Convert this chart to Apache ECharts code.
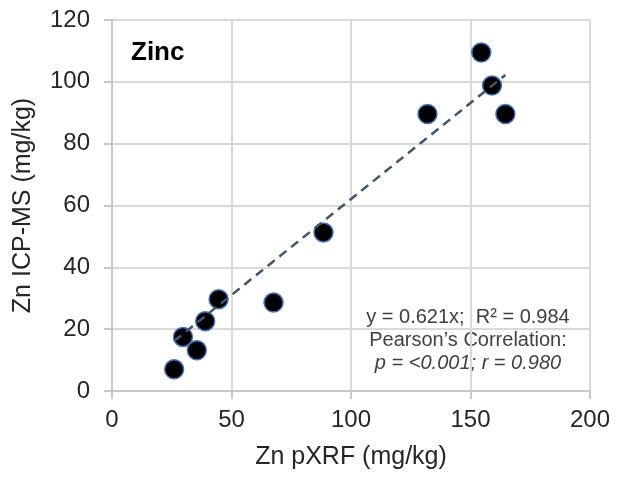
<!DOCTYPE html>
<html>
<head>
<meta charset="utf-8">
<script src="https://cdn.jsdelivr.net/npm/echarts@6/dist/echarts.min.js"></script>
<style>
  html, body { margin: 0; padding: 0; background: #fff; }
  #chart { width: 621px; height: 482px; }
</style>
</head>
<body>
<div id="chart"></div>
<script>
// Zn pXRF vs ICP-MS (mg/kg)
var pxrf  = [154.5, 159, 132, 164.6, 88.5, 44.6, 67.6, 39, 29.7, 35.5, 26]
var icpms = [109.5, 98.8, 89.6, 89.6, 51.3, 29.7, 28.6, 22.6, 17.5, 13.2, 7]
var slope = 0.621
var xTicks = [0, 50, 100, 150, 200]
var yTicks = [0, 20, 40, 60, 80, 100, 120]
var statLines = ['y = 0.621x;  R\u00b2 = 0.984', 'Pearson\u2019s Correlation:', 'p = <0.001; r = 0.980']

var points = pxrf.map(function (x, i) { return [x, icpms[i]] })
var xMin = Math.min.apply(null, pxrf)
var xMax = Math.max.apply(null, pxrf)
var trend = [[xMin, slope * xMin], [xMax, slope * xMax]]

var font = '"Liberation Sans", Arial, sans-serif'
var gridColor = '#d9d9d9'
var textColor = '#262626'

var chart = echarts.init(document.getElementById('chart'))
chart.setOption({
  animation: false,
  textStyle: { fontFamily: font },
  grid: { left: 112, right: 31, top: 20, bottom: 91, containLabel: false },
  xAxis: {
    type: 'value',
    min: xTicks[0], max: xTicks[xTicks.length - 1], interval: 50,
    name: 'Zn pXRF (mg/kg)', nameLocation: 'middle', nameGap: 54,
    nameTextStyle: { fontSize: 25, color: textColor, fontFamily: font },
    axisLine: { show: true, lineStyle: { color: '#c8c8c8', width: 2 } },
    axisTick: { show: true, length: 8, lineStyle: { color: '#c8c8c8', width: 2 } },
    axisLabel: { fontSize: 24, color: textColor, margin: 17, fontFamily: font },
    splitLine: { show: true, lineStyle: { color: gridColor, width: 2 } }
  },
  yAxis: {
    type: 'value',
    min: yTicks[0], max: yTicks[yTicks.length - 1], interval: 20,
    name: 'Zn ICP-MS (mg/kg)', nameLocation: 'middle', nameGap: 76,
    nameTextStyle: { fontSize: 25, color: textColor, fontFamily: font },
    axisLine: { show: true, lineStyle: { color: '#c8c8c8', width: 2 } },
    axisTick: { show: true, length: 8, lineStyle: { color: '#c8c8c8', width: 2 } },
    axisLabel: { fontSize: 24, color: textColor, margin: 22, fontFamily: font },
    splitLine: { show: true, lineStyle: { color: gridColor, width: 2 } }
  },
  series: [
    {
      type: 'scatter',
      data: points,
      symbol: 'circle',
      symbolSize: 19,
      itemStyle: { color: '#000', opacity: 1, borderColor: '#4472c4', borderWidth: 1.5 },
      z: 2
    },
    {
      type: 'line',
      data: trend,
      symbol: 'none',
      lineStyle: { color: '#44546a', width: 2.5, type: [9, 6] },
      z: 3
    }
  ],
  graphic: [
    {
      type: 'text', left: 131, top: 40,
      style: { text: 'Zinc', font: 'bold 26px ' + font, fill: '#000' }
    },
    {
      type: 'text', x: 468, y: 317,
      style: { text: statLines[0], font: '20px ' + font, fill: '#404040', align: 'center', verticalAlign: 'middle' }
    },
    {
      type: 'text', x: 468, y: 340,
      style: { text: statLines[1], font: '20px ' + font, fill: '#404040', align: 'center', verticalAlign: 'middle' }
    },
    {
      type: 'text', x: 468, y: 363,
      style: { text: statLines[2], font: 'italic 20px ' + font, fill: '#404040', align: 'center', verticalAlign: 'middle' }
    }
  ]
})
</script>
</body>
</html>
